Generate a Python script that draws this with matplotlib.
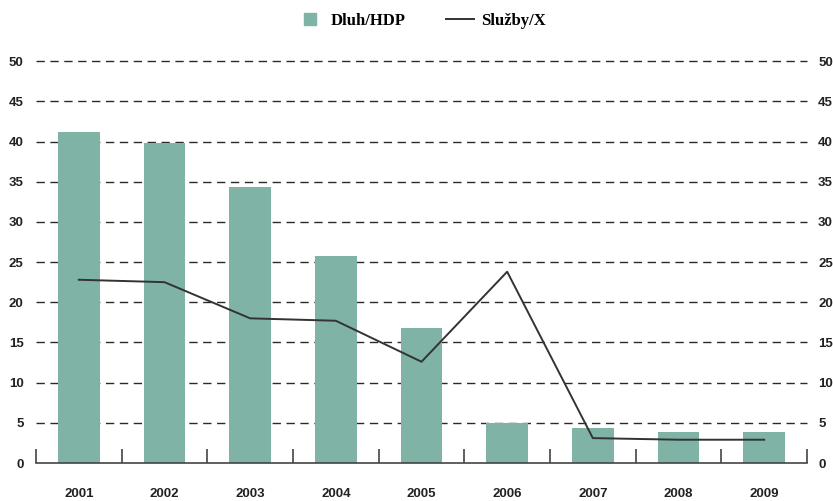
import numpy as np
import matplotlib.pyplot as plt
from matplotlib.lines import Line2D

roky = ["2001", "2002", "2003", "2004", "2005", "2006", "2007", "2008", "2009"]
dluh_hdp = [41.2, 39.8, 34.3, 25.7, 16.8, 5.0, 4.4, 3.9, 3.9]
sluzby_x = [22.8, 22.5, 18.0, 17.7, 12.6, 23.8, 3.1, 2.9, 2.9]
y_ticks = [0, 5, 10, 15, 20, 25, 30, 35, 40, 45, 50]

plt.rcParams["font.family"] = "Liberation Sans"

fig = plt.figure(figsize=(8.33, 5.01), dpi=100)
ax = fig.add_axes([0.0432, 0.0758, 0.9256, 0.8022])
x = np.arange(len(roky))

ax.set_xlim(-0.5, len(roky) - 0.5)
ax.set_ylim(0, 50)

# mrizka
for v in y_ticks[1:]:
    ax.axhline(v, color="#2a2a2a", linestyle=(0, (6, 4)), linewidth=1.0, zorder=1, clip_on=False)

ax.bar(x, dluh_hdp, width=0.49, color="#7fb3a5", zorder=2)
ax.plot(x, sluzby_x, color="#333333", linewidth=1.4, zorder=3)

for s in ["top", "left", "right"]:
    ax.spines[s].set_visible(False)
ax.spines["bottom"].set_color("#444444")
ax.spines["bottom"].set_linewidth(1.2)

ax.set_xticks(x)
ax.set_xticklabels(roky)
ax.set_xticks(np.arange(-0.5, len(roky)), minor=True)
ax.tick_params(axis="x", which="major", length=0, pad=18, labelsize=9.5, labelcolor="#222222")
ax.tick_params(axis="x", which="minor", direction="in", length=10, width=1.2, color="#444444")
for lab in ax.get_xticklabels():
    lab.set_fontweight("bold")

ax.set_yticks(y_ticks)
ax.tick_params(axis="y", length=0, pad=9, labelsize=9.5, labelcolor="#222222")
for lab in ax.get_yticklabels():
    lab.set_fontweight("bold")

ax2 = ax.twinx()
ax2.set_ylim(0, 50)
ax2.set_yticks(y_ticks)
ax2.tick_params(axis="y", length=0, pad=8, labelsize=9.5, labelcolor="#222222")
for lab in ax2.get_yticklabels():
    lab.set_fontweight("bold")
for s in ax2.spines.values():
    s.set_visible(False)

handles = [
    Line2D([], [], linestyle="none", marker="s", markersize=8, color="#7fb3a5"),
    Line2D([], [], color="#333333", linewidth=1.4),
]
fig.legend(handles=handles, labels=["Dluh/HDP", "Služby/X"], loc="center",
           bbox_to_anchor=(0.505, 0.958), ncol=2, frameon=False, columnspacing=2.4,
           handlelength=1.7, handletextpad=0.4,
           prop={"family": "Liberation Serif", "weight": "bold", "size": 12})

fig.savefig("out.png", dpi=100)
